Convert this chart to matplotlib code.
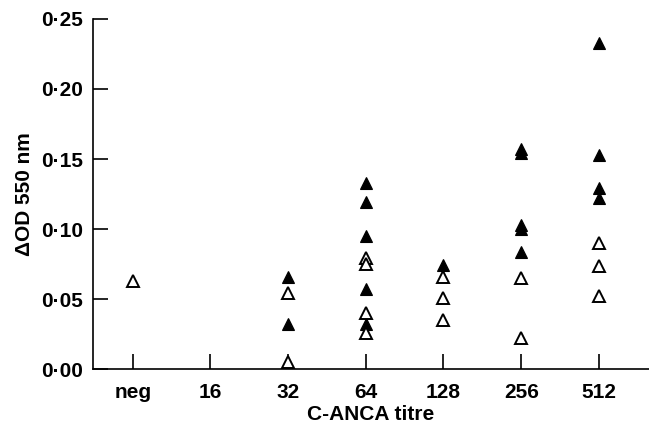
import matplotlib.pyplot as plt

plt.rcParams['font.family'] = ['Liberation Sans', 'DejaVu Sans']

# titre categories on the x axis
titres = ['neg', '16', '32', '64', '128', '256', '512']

# filled triangles, one list per titre
filled = [
    [],
    [],
    [0.066, 0.032],
    [0.133, 0.119, 0.095, 0.057, 0.032],
    [0.0745],
    [0.157, 0.154, 0.103, 0.100, 0.0835],
    [0.233, 0.153, 0.129, 0.122],
]
# open triangles
unfilled = [
    [0.063],
    [],
    [0.054, 0.005],
    [0.0795, 0.075, 0.040, 0.026],
    [0.0655, 0.051, 0.035],
    [0.065, 0.022],
    [0.090, 0.0736, 0.052],
]

fig = plt.figure(figsize=(6.49, 4.26), dpi=100)
ax = fig.add_axes([0.1433, 0.1338, 0.8567, 0.8216])

for i, vals in enumerate(filled):
    ax.plot([i] * len(vals), vals, linestyle='none', marker='^', markersize=9,
            markerfacecolor='black', markeredgecolor='black', markeredgewidth=0.8)
for i, vals in enumerate(unfilled):
    ax.plot([i] * len(vals), vals, linestyle='none', marker='^', markersize=8.5,
            markerfacecolor='white', markeredgecolor='black', markeredgewidth=1.4)

ax.set_xlim(-0.511, 6.645)
ax.set_ylim(0, 0.25)

ax.spines['top'].set_visible(False)
ax.spines['right'].set_visible(False)
ax.spines['left'].set_linewidth(1.2)
ax.spines['bottom'].set_linewidth(1.2)

yt = [0, 0.05, 0.10, 0.15, 0.20, 0.25]
ax.set_yticks(yt)
ax.set_yticklabels([f"{v:.2f}".replace('.', '\u00b7') for v in yt])
ax.set_xticks(range(len(titres)))
ax.set_xticklabels(titres)

ax.tick_params(axis='both', direction='in', length=10.5, width=1.2,
               labelsize=15, pad=7)
ax.tick_params(axis='x', pad=10)
for lab in ax.get_xticklabels() + ax.get_yticklabels():
    lab.set_fontweight('bold')

ax.set_xlabel('C-ANCA titre', fontsize=15, fontweight='bold', labelpad=2)
ax.set_ylabel('\u0394OD 550 nm', fontsize=15, fontweight='bold', labelpad=5)

fig.savefig('out.png', dpi=100)
